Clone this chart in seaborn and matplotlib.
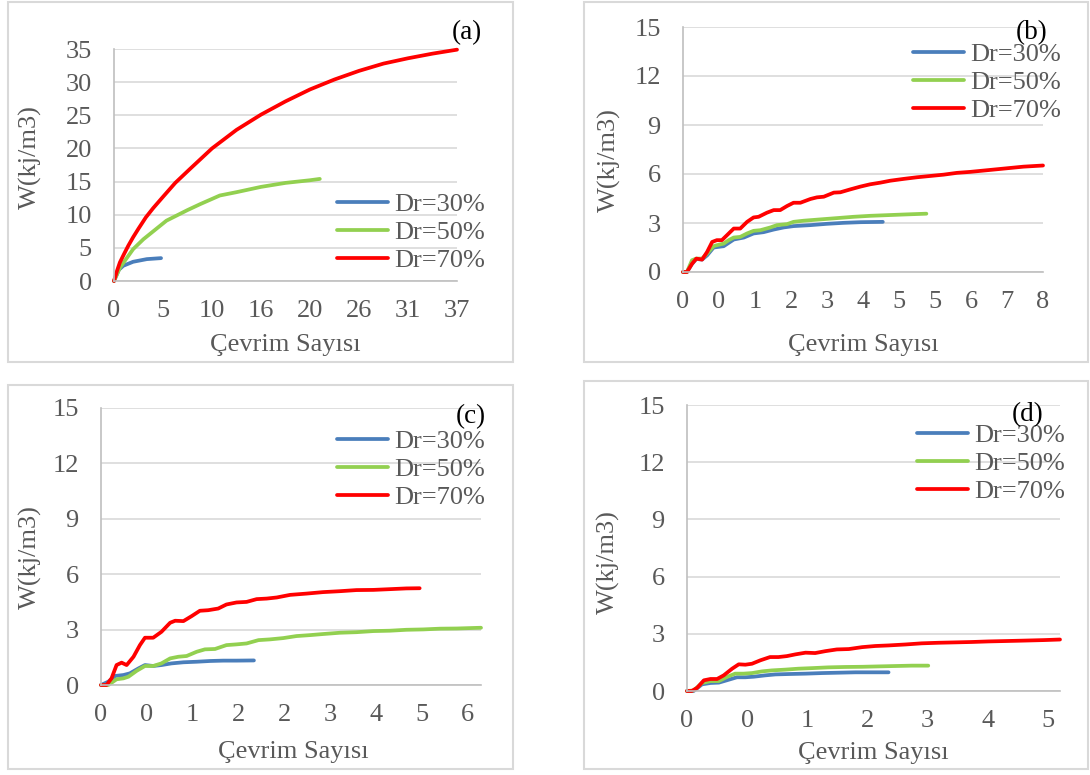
import pandas as pd
import matplotlib
matplotlib.use("Agg")
import matplotlib.pyplot as plt
import seaborn as sns
from matplotlib.patches import Rectangle

sns.set_style("white")
plt.rcParams["font.family"] = ["Liberation Serif", "DejaVu Serif"]

W, H = 1090, 775
GRAY = "#595959"
GRID = "#d9d9d9"
COLORS = {"Dr=30%": "#4a7ebb", "Dr=50%": "#92d050", "Dr=70%": "#ff0000"}
FS = 19

# ---- data (x = position on the category axis, y = W in kj/m3) ----
# (a)
a_ticks = ["0", "5", "10", "16", "20", "26", "31", "37"]
a_x30 = [0, 0.1, 0.19, 0.39, 0.67, 0.96]
a_y30 = [0, 1.7, 2.3, 2.9, 3.3, 3.45]
a_x50 = [0, 0.12, 0.39, 0.6, 1.07, 1.5, 1.76, 2.16, 2.5, 3.0, 3.5, 4.0, 4.2]
a_y50 = [0, 2.0, 4.8, 6.3, 9.1, 10.7, 11.6, 12.9, 13.4, 14.2, 14.8, 15.2, 15.4]
a_x70 = [0, 0.06, 0.12, 0.2, 0.29, 0.39, 0.5, 0.65, 0.8, 1.0, 1.25, 1.55, 2.0,
         2.5, 3.0, 3.5, 4.0, 4.5, 5.0, 5.5, 6.0, 6.5, 7.0]
a_y70 = [0, 1.5, 2.8, 4.0, 5.3, 6.6, 7.9, 9.6, 11.0, 12.7, 14.8, 16.9, 20.0,
         22.8, 25.1, 27.1, 28.9, 30.4, 31.7, 32.8, 33.6, 34.3, 34.9]

# (b)
b_ticks = ["0", "0", "1", "2", "3", "4", "5", "5", "6", "7", "8"]
b_x30 = [0, 0.11, 0.25, 0.37, 0.53, 0.67, 0.85, 1.13, 1.41, 1.69, 1.96, 2.24,
         2.52, 2.8, 3.07, 3.54, 4.0, 4.46, 4.93, 5.55]
b_y30 = [0, 0, 0.5, 0.8, 0.76, 1.02, 1.5, 1.58, 1.99, 2.11, 2.36, 2.44,
         2.6, 2.73, 2.81, 2.87, 2.95, 3.01, 3.05, 3.07]
b_x50 = [0, 0.11, 0.25, 0.37, 0.53, 0.67, 0.85, 0.94, 1.13, 1.27, 1.41, 1.59,
         1.78, 1.96, 2.15, 2.43, 2.61, 2.89, 3.07, 3.35, 3.81, 4.28, 4.74,
         5.2, 5.67, 6.13, 6.76]
b_y50 = [0, 0, 0.72, 0.82, 0.82, 1.13, 1.58, 1.64, 1.74, 1.95, 2.11, 2.15,
         2.36, 2.52, 2.56, 2.73, 2.87, 2.93, 3.07, 3.14, 3.22, 3.3, 3.38,
         3.44, 3.48, 3.52, 3.57]
b_x70 = [0, 0.11, 0.25, 0.37, 0.53, 0.67, 0.81, 0.94, 1.08, 1.22, 1.41, 1.59,
         1.78, 1.96, 2.1, 2.33, 2.52, 2.7, 2.89, 3.07, 3.26, 3.54, 3.72, 3.91,
         4.19, 4.37, 4.65, 4.93, 5.2, 5.48, 5.76, 6.13, 6.5, 6.87, 7.24, 7.61,
         7.98, 8.35, 8.72, 9.09, 9.46, 10.0]
b_y70 = [0, 0, 0.5, 0.82, 0.76, 1.23, 1.84, 1.95, 1.95, 2.25, 2.66, 2.66,
         3.07, 3.34, 3.38, 3.63, 3.79, 3.79, 4.04, 4.24, 4.24, 4.47, 4.57, 4.61,
         4.86, 4.88, 5.06, 5.23, 5.37, 5.47, 5.59, 5.7, 5.8, 5.88, 5.96, 6.07,
         6.13, 6.21, 6.29, 6.37, 6.45, 6.52]

# (c)
c_ticks = ["0", "0", "1", "2", "2", "3", "4", "5", "6"]
c_x30 = [0, 0.16, 0.31, 0.49, 0.63, 0.82, 0.96, 1.14, 1.32, 1.54, 1.8, 2.09,
         2.38, 2.67, 2.96, 3.34]
c_y30 = [0, 0.18, 0.49, 0.54, 0.63, 0.9, 1.08, 1.03, 1.08, 1.17, 1.23, 1.26,
         1.3, 1.32, 1.32, 1.33]
c_x50 = [0, 0.16, 0.34, 0.49, 0.6, 0.78, 0.96, 1.14, 1.32, 1.51, 1.69, 1.87,
         2.09, 2.27, 2.49, 2.74, 2.96, 3.18, 3.44, 3.69, 3.98, 4.27, 4.56,
         4.85, 5.22, 5.58, 5.95, 6.31, 6.67, 7.04, 7.4, 7.77, 8.3]
c_y50 = [0, 0, 0.31, 0.36, 0.45, 0.77, 1.03, 1.03, 1.17, 1.44, 1.53, 1.57,
         1.8, 1.93, 1.95, 2.16, 2.2, 2.25, 2.43, 2.47, 2.54, 2.65, 2.7,
         2.76, 2.83, 2.86, 2.92, 2.94, 2.99, 3.01, 3.05, 3.06, 3.1]
c_x70 = [0, 0.12, 0.23, 0.34, 0.45, 0.56, 0.71, 0.85, 0.96, 1.14, 1.32, 1.51,
         1.62, 1.8, 1.98, 2.16, 2.34, 2.56, 2.74, 2.96, 3.18, 3.4, 3.62, 3.84,
         4.13, 4.49, 4.85, 5.22, 5.58, 5.95, 6.31, 6.67, 6.96]
c_y70 = [0, 0, 0.36, 1.08, 1.21, 1.08, 1.53, 2.16, 2.56, 2.56, 2.88, 3.37,
         3.48, 3.46, 3.73, 4.02, 4.05, 4.14, 4.36, 4.47, 4.5, 4.65, 4.68, 4.74,
         4.88, 4.95, 5.03, 5.08, 5.14, 5.15, 5.19, 5.23, 5.24]

# (d)
d_ticks = ["0", "0", "1", "2", "3", "4", "5"]
d_x30 = [0, 0.11, 0.25, 0.39, 0.53, 0.66, 0.83, 0.97, 1.11, 1.3, 1.47, 1.69,
         1.97, 2.24, 2.52, 2.8, 3.07, 3.35]
d_y30 = [0, 0, 0.35, 0.42, 0.44, 0.56, 0.72, 0.72, 0.75, 0.82, 0.87, 0.89,
         0.91, 0.94, 0.96, 0.98, 0.98, 0.98]
d_x50 = [0, 0.11, 0.25, 0.39, 0.53, 0.66, 0.8, 0.94, 1.08, 1.25, 1.41, 1.63,
         1.85, 2.08, 2.35, 2.63, 2.91, 3.18, 3.46, 3.74, 4.01]
d_y50 = [0, 0.03, 0.42, 0.52, 0.52, 0.73, 0.91, 0.91, 0.94, 1.03, 1.08, 1.12,
         1.17, 1.2, 1.24, 1.26, 1.27, 1.29, 1.31, 1.33, 1.33]
d_x70 = [0, 0.08, 0.17, 0.28, 0.39, 0.5, 0.61, 0.75, 0.86, 0.97, 1.08, 1.22,
         1.38, 1.52, 1.66, 1.8, 1.97, 2.13, 2.3, 2.49, 2.69, 2.91, 3.13, 3.35,
         3.63, 3.9, 4.18, 4.46, 4.73, 5.01, 5.29, 5.56, 5.93, 6.2]
d_y70 = [0, 0, 0.17, 0.56, 0.63, 0.63, 0.82, 1.17, 1.4, 1.38, 1.43, 1.61,
         1.78, 1.78, 1.83, 1.92, 2.01, 1.99, 2.09, 2.18, 2.2, 2.3, 2.36, 2.39,
         2.44, 2.5, 2.53, 2.55, 2.57, 2.6, 2.62, 2.64, 2.67, 2.7]


def series_frame(x30, y30, x50, y50, x70, y70):
    parts = []
    for name, xs, ys in [("Dr=30%", x30, y30), ("Dr=50%", x50, y50), ("Dr=70%", x70, y70)]:
        parts.append(pd.DataFrame({"pos": xs, "W": ys, "Dr": name}))
    return pd.concat(parts, ignore_index=True)


# layout in pixels (left, top, right, bottom) for box and plot area
panels = [
    dict(tag="(a)", df=series_frame(a_x30, a_y30, a_x50, a_y50, a_x70, a_y70),
         ticks=a_ticks, xmax=7, ymax=35, ystep=5,
         box=(8, 2, 513, 362), plot=(114, 49, 457, 281),
         ylab=(30, 157), xlab=(285, 345), letter=(467, 33), leg=(337, 202)),
    dict(tag="(b)", df=series_frame(b_x30, b_y30, b_x50, b_y50, b_x70, b_y70),
         ticks=b_ticks, xmax=10, ymax=15, ystep=3,
         box=(584, 2, 1088, 362), plot=(683, 27, 1043, 272),
         ylab=(609, 160), xlab=(863, 345), letter=(1032, 33), leg=(913, 52)),
    dict(tag="(c)", df=series_frame(c_x30, c_y30, c_x50, c_y50, c_x70, c_y70),
         ticks=c_ticks, xmax=8.3, ymax=15, ystep=3,
         box=(8, 385, 513, 769), plot=(101, 408, 481, 685),
         ylab=(30, 557), xlab=(293, 752), letter=(471, 417), leg=(337, 439)),
    dict(tag="(d)", df=series_frame(d_x30, d_y30, d_x50, d_y50, d_x70, d_y70),
         ticks=d_ticks, xmax=6.2, ymax=15, ystep=3,
         box=(584, 381, 1088, 769), plot=(687, 405, 1060, 691),
         ylab=(608, 562), xlab=(873, 753), letter=(1028, 415), leg=(917, 433)),
]

fig = plt.figure(figsize=(W / 100, H / 100), dpi=100)
fig.patch.set_facecolor("white")


def fx(px):
    return px / W


def fy(py):
    return 1 - py / H


for p in panels:
    l, t, r, b = p["box"]
    fig.patches.append(Rectangle((fx(l), fy(b)), fx(r - l), (b - t) / H,
                                 transform=fig.transFigure, fill=False,
                                 edgecolor=GRID, linewidth=1.5, zorder=0))

    l, t, r, b = p["plot"]
    ax = fig.add_axes([fx(l), fy(b), fx(r - l), (b - t) / H])
    sns.lineplot(data=p["df"], x="pos", y="W", hue="Dr", palette=COLORS,
                 estimator=None, sort=False, linewidth=2.7, ax=ax)
    for line in ax.lines:
        line.set_clip_on(False)
        line.set_solid_capstyle("round")
        line.set_solid_joinstyle("round")

    ax.set_xlim(0, p["xmax"])
    ax.set_ylim(0, p["ymax"])
    ax.set_xticks(range(len(p["ticks"])))
    ax.set_xticklabels(p["ticks"])
    ax.set_yticks(range(0, p["ymax"] + 1, p["ystep"]))
    ax.yaxis.grid(True, color=GRID, linewidth=1.2)
    ax.xaxis.grid(False)
    ax.set_axisbelow(True)
    for side in ["top", "right"]:
        ax.spines[side].set_visible(False)
    for side in ["left", "bottom"]:
        ax.spines[side].set_color("#bfbfbf")
        ax.spines[side].set_linewidth(1.2)
    ax.tick_params(axis="both", length=0, labelsize=FS, labelcolor=GRAY)
    ax.tick_params(axis="y", pad=16)
    ax.tick_params(axis="x", pad=14)

    ax.set_ylabel("W(kj/m3)", fontsize=FS, color=GRAY)
    ax.yaxis.label.set_verticalalignment("center")
    ax.yaxis.set_label_coords(fx(p["ylab"][0]), fy(p["ylab"][1]), transform=fig.transFigure)
    ax.set_xlabel("Çevrim Sayısı", fontsize=FS, color=GRAY)
    ax.xaxis.label.set_verticalalignment("center")
    ax.xaxis.set_label_coords(fx(p["xlab"][0]), fy(p["xlab"][1]), transform=fig.transFigure)

    handles, labels = ax.get_legend_handles_labels()
    lx, ly = p["leg"]
    leg = ax.legend(handles, labels, loc="upper left",
                    bbox_to_anchor=(fx(lx), fy(ly - 9)), bbox_transform=fig.transFigure,
                    frameon=False, fontsize=FS, handlelength=1.95, handletextpad=0.2,
                    labelspacing=0.16, borderpad=0, borderaxespad=0)
    for txt in leg.get_texts():
        txt.set_color(GRAY)
    for h in leg.get_lines():
        h.set_linewidth(2.7)

    fig.text(fx(p["letter"][0]), fy(p["letter"][1]), p["tag"], fontsize=19.5,
             color="black", ha="center", va="center")

fig.savefig("out.png", dpi=100, facecolor="white")
